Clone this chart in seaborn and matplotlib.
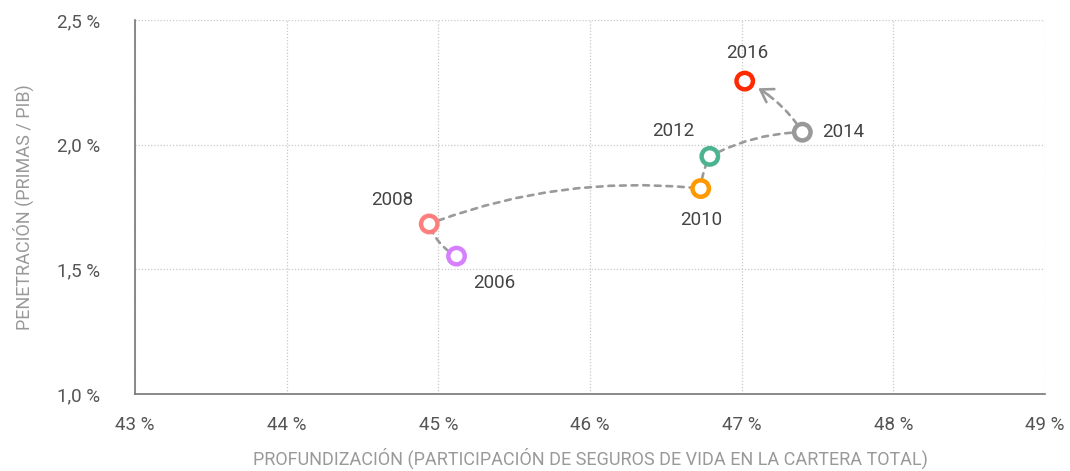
import matplotlib
matplotlib.use("Agg")
import matplotlib.pyplot as plt
from matplotlib.patches import FancyArrowPatch
from matplotlib.ticker import FuncFormatter, MultipleLocator
import seaborn as sns
import pandas as pd

# ---- data ----
years = ["2006", "2008", "2010", "2012", "2014", "2016"]
profundizacion = [45.12, 44.94, 46.73, 46.79, 47.40, 47.02]   # %
penetracion = [1.553, 1.682, 1.824, 1.953, 2.050, 2.255]      # %
colors = ["#D580FF", "#FF7F7F", "#FF9900", "#4CB391", "#999999", "#FF2A00"]
x_ticks = [43, 44, 45, 46, 47, 48, 49]
y_ticks = [1.0, 1.5, 2.0, 2.5]
x_label = "PROFUNDIZACIÓN (PARTICIPACIÓN DE SEGUROS DE VIDA EN LA CARTERA TOTAL)"
y_label = "PENETRACIÓN (PRIMAS / PIB)"

# ---- style ----
sns.set_theme(style="white")
plt.rcParams["font.family"] = ["Roboto", "DejaVu Sans"]

df = pd.DataFrame({"year": years, "x": profundizacion, "y": penetracion})

fig = plt.figure(figsize=(10.7, 4.71), dpi=100)
ax = fig.add_axes([135 / 1070, 1 - 394 / 471, 910 / 1070, 374 / 471])

ax.set_xlim(x_ticks[0], x_ticks[-1])
ax.set_ylim(y_ticks[0], y_ticks[-1])

# connecting dashed curves
bends = [-0.2, -0.12, -0.1, -0.12, 0.15]
curve_color = "#9a9a9a"
for i in range(len(years) - 1):
    p0 = (profundizacion[i], penetracion[i])
    p1 = (profundizacion[i + 1], penetracion[i + 1])
    last = i == len(years) - 2
    patch = FancyArrowPatch(p0, p1, connectionstyle=f"arc3,rad={bends[i]}",
                            arrowstyle="-", color=curve_color, lw=1.9,
                            linestyle=(0, (2.2, 2.2)), shrinkA=7,
                            shrinkB=14 if last else 7, zorder=2)
    ax.add_patch(patch)
    if last:
        head = FancyArrowPatch(p0, p1, connectionstyle=f"arc3,rad={bends[i]}",
                               arrowstyle="->,head_length=8.5,head_width=5.5",
                               color=curve_color, lw=1.9, shrinkA=36, shrinkB=11,
                               zorder=2)
        ax.add_patch(head)

# points (rings)
sns.scatterplot(data=df, x="x", y="y", hue="year",
                palette=dict(zip(years, colors)), s=140, linewidth=3.2,
                legend=False, ax=ax, zorder=5)
coll = ax.collections[-1]
fc = coll.get_facecolors()
coll.set_edgecolors(fc)
coll.set_facecolors("white")

# year labels
offsets = [(27, -19), (-27, 17), (0, -23), (-26, 18), (29.5, 0), (1.5, 20)]
for yr, xv, yv, off in zip(years, profundizacion, penetracion, offsets):
    ax.annotate(yr, (xv, yv), xytext=off, textcoords="offset points",
                ha="center", va="center", fontsize=13.5, color="#444444",
                zorder=6)

# axes styling
ax.xaxis.set_major_locator(MultipleLocator(1))
ax.yaxis.set_major_locator(MultipleLocator(0.5))
ax.xaxis.set_major_formatter(FuncFormatter(lambda v, p: f"{v:.0f} %"))
ax.yaxis.set_major_formatter(FuncFormatter(lambda v, p: f"{v:.1f} %".replace(".", ",")))
ax.grid(True, color="#c8c8c8", linestyle=(0, (1, 1.5)), linewidth=0.9)
for s in ["top", "right"]:
    ax.spines[s].set_visible(False)
for s in ["left", "bottom"]:
    ax.spines[s].set_color("#777777")
    ax.spines[s].set_linewidth(1.2)
ax.tick_params(axis="both", which="major", direction="out", length=6,
               width=1.0, color="#777777", labelsize=13.5, labelcolor="#555555")
ax.tick_params(axis="y", pad=19)
ax.tick_params(axis="x", pad=10)
ax.set_xlabel(x_label, fontsize=13, color="#999999", labelpad=10)
ax.set_ylabel(y_label, fontsize=13, color="#999999")
ax.yaxis.set_label_coords(-(135 - 34) / 910, 0.5)

fig.savefig("out.png", dpi=100)
